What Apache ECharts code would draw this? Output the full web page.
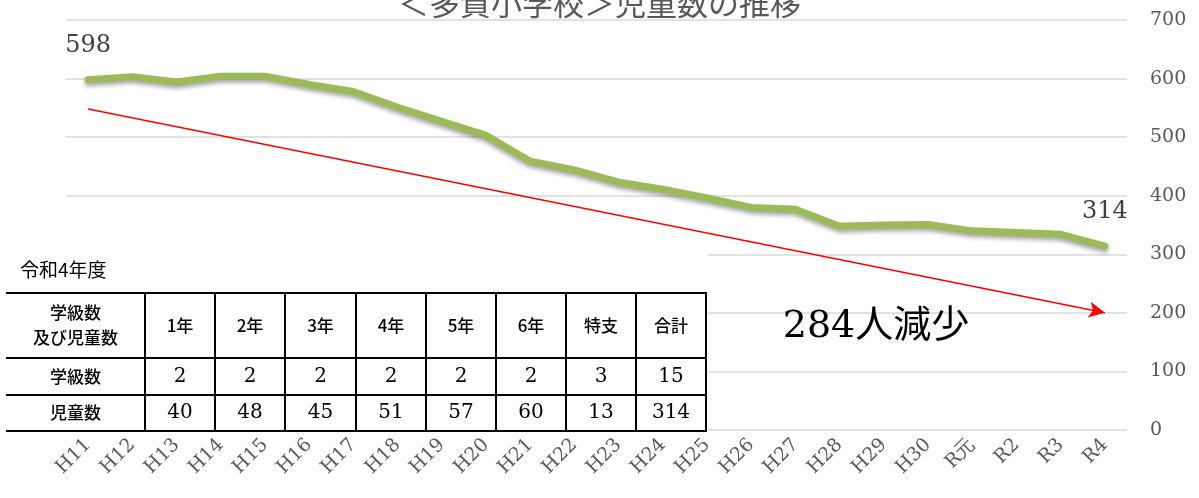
<!DOCTYPE html>
<html>
<head>
<meta charset="utf-8">
<script src="https://cdn.jsdelivr.net/npm/echarts@6/dist/echarts.min.js"></script>
<style>
  html, body { margin: 0; padding: 0; background: #fff; }
  #chart { width: 1199px; height: 498px; }
</style>
</head>
<body>
<div id="chart"></div>
<script>
// data
const years = ['H11', 'H12', 'H13', 'H14', 'H15', 'H16', 'H17', 'H18', 'H19', 'H20',
  'H21', 'H22', 'H23', 'H24', 'H25', 'H26', 'H27', 'H28', 'H29', 'H30',
  'R元', 'R2', 'R3', 'R4'];
const students = [598, 603, 594, 604, 604, 590, 578, 551, 527, 503,
  459, 444, 423, 411, 396, 380, 377, 348, 350, 351,
  340, 337, 334, 314];
const trendStart = 548; // red arrow, H11
const trendEnd = 200;   // red arrow, R4
const yTicks = [0, 700, 100]; // min, max, interval

// inset table (令和4年度)
const tableHead = ['学級数\n及び児童数', '1年', '2年', '3年', '4年', '5年', '6年', '特支', '合計'];
const classRow = ['学級数', 2, 2, 2, 2, 2, 2, 3, 15];
const studentRow = ['児童数', 40, 48, 45, 51, 57, 60, 13, 314];

const serif = '"DejaVu Serif", "Liberation Serif", serif';
const gothic = '"Noto Sans CJK JP", sans-serif';

// table layout
const colX = [6, 145, 215, 285, 356, 426, 496, 566, 636, 706];
const rowY = [293, 358, 395, 431];

const graphics = [
  { type: 'rect', shape: { x: 0, y: 249, width: 708, height: 184 }, style: { fill: '#fff' }, z: 10 },
  { type: 'text', x: 20, y: 260, style: { text: '令和4年度', font: '19px ' + gothic, fill: '#000' }, z: 11 }
];
rowY.forEach(y => {
  graphics.push({ type: 'line', shape: { x1: colX[0], y1: y, x2: colX[colX.length - 1] + 1, y2: y },
    style: { stroke: '#000', lineWidth: 2 }, z: 11 });
});
colX.slice(1).forEach(x => {
  graphics.push({ type: 'line', shape: { x1: x, y1: rowY[0], x2: x, y2: rowY[3] },
    style: { stroke: '#000', lineWidth: 2 }, z: 11 });
});
[tableHead, classRow, studentRow].forEach((row, r) => {
  row.forEach((cell, c) => {
    const isNum = typeof cell === 'number';
    graphics.push({
      type: 'text',
      x: (colX[c] + colX[c + 1]) / 2,
      y: (rowY[r] + rowY[r + 1]) / 2,
      style: {
        text: String(cell),
        font: isNum ? '20px ' + serif : '500 17px ' + gothic,
        fill: '#000',
        align: 'center',
        verticalAlign: 'middle',
        lineHeight: 25
      },
      z: 11
    });
  });
});
graphics.push({
  type: 'text', x: 876, y: 327,
  style: {
    text: (students[0] - students[students.length - 1]) + '人減少',
    font: '38px ' + serif + ', ' + gothic,
    fill: '#000', align: 'center', verticalAlign: 'middle'
  },
  z: 11
});

const option = {
  animation: false,
  title: {
    text: '＜多賀小学校＞児童数の推移',
    left: 'center',
    top: -17,
    textStyle: { fontFamily: gothic, fontSize: 31, fontWeight: 'normal', color: '#595959' }
  },
  grid: { left: 66, right: 72, top: 20, bottom: 68, outerBoundsMode: 'none', containLabel: false },
  xAxis: {
    type: 'category',
    data: years,
    axisLine: { show: false },
    axisTick: { show: false },
    axisLabel: { rotate: 45, margin: 12, color: '#595959', fontFamily: serif, fontSize: 19 }
  },
  yAxis: {
    type: 'value',
    position: 'right',
    min: yTicks[0],
    max: yTicks[1],
    interval: yTicks[2],
    axisLine: { show: false },
    axisTick: { show: false },
    axisLabel: { margin: 23, color: '#595959', fontFamily: serif, fontSize: 19 },
    splitLine: { lineStyle: { color: '#d9d9d9', width: 1.5 } }
  },
  series: [
    {
      type: 'line',
      data: students,
      symbol: 'circle',
      symbolSize: 0,
      showSymbol: true,
      lineStyle: {
        color: '#9bbb59', width: 7, cap: 'round', join: 'round',
        shadowColor: 'rgba(0,0,0,0.35)', shadowBlur: 4, shadowOffsetY: 3
      },
      itemStyle: { color: '#9bbb59' },
      label: {
        show: true,
        position: 'top',
        distance: 22,
        fontFamily: serif,
        fontSize: 24,
        color: '#404040',
        formatter: p => (p.dataIndex === 0 || p.dataIndex === students.length - 1) ? p.value : ''
      },
      z: 3
    },
    {
      type: 'line',
      data: [],
      markLine: {
        silent: true,
        symbol: ['none', 'arrow'],
        symbolSize: [12, 16],
        label: { show: false },
        lineStyle: { color: '#ff0000', width: 1.5, type: 'solid' },
        data: [[
          { coord: [years[0], trendStart] },
          { coord: [years[years.length - 1], trendEnd] }
        ]]
      },
      z: 2
    }
  ],
  graphic: graphics
};

const chart = echarts.init(document.getElementById('chart'));
chart.setOption(option);
</script>
</body>
</html>
